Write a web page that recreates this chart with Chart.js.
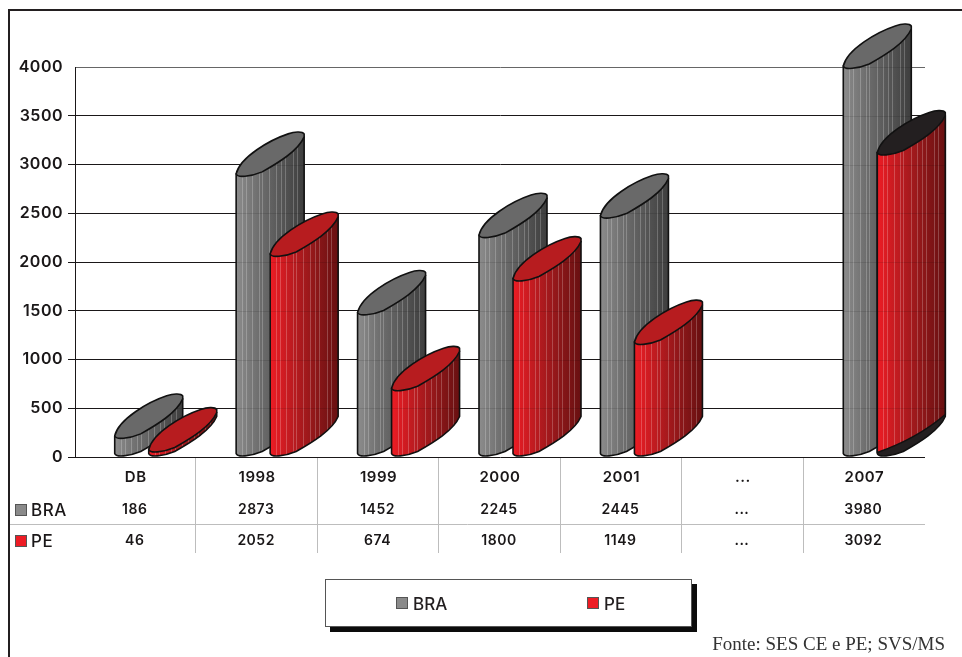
<!DOCTYPE html>
<html>
<head>
<meta charset="utf-8">
<title>BRA x PE</title>
<script src="https://cdn.jsdelivr.net/npm/chart.js@4.4.3/dist/chart.umd.js"></script>
<style>
    html, body { margin: 0; padding: 0; background: #fff; }
    body { width: 962px; height: 657px; position: relative; overflow: hidden; font-family: Inter, sans-serif; color: #231f20; }
    canvas { position: absolute; left: 0; top: 0; }
    #frame { position: absolute; left: 8px; top: 9px; right: 0; bottom: 0; border-top: 2.5px solid #231f20; border-left: 2.5px solid #231f20; }
    #legend { position: absolute; left: 325px; top: 579px; width: 365px; height: 46px; background: #fff; border: 1px solid #555; box-shadow: 5px 5px 0 #0c0c0c; }
    #legend span { position: absolute; top: 14px; font-size: 17px; font-weight: 500; line-height: 20px; }
    #legend i { position: absolute; top: 3px; left: -17px; width: 10px; height: 10px; border: 1px solid #555; }
    #source { position: absolute; right: 17px; top: 633px; font: 19px "Liberation Serif", serif; color: #333; }
</style>
</head>
<body>
<div id="frame"></div>
<canvas id="chart" width="962" height="657"></canvas>
<div id="legend"></div>
<div id="source">Fonte: SES CE e PE; SVS/MS</div>

<script>
const categories = ['DB', '1998', '1999', '2000', '2001', '...', '2007'];
const braValues = [186, 2873, 1452, 2245, 2445, null, 3980];
const peValues = [46, 2052, 674, 1800, 1149, null, 3092];
const yTicks = [0, 500, 1000, 1500, 2000, 2500, 3000, 3500, 4000];
const seriesNames = ['BRA', 'PE'];
const seriesColors = ['#8a8a8a', '#ed1c24'];

const ink = '#1a1718';
const fontFamily = 'Inter, sans-serif';
const barShift = 13;     // the bars sit right of the category centre in the original
const darkCapIndex = 6;  // 2007 PE has black caps

// colours of the fake cylinder, left to right
const shades = {
    BRA: { stops: ['#8c8c8c', '#6e6e6e', '#565656', '#3e3e3e'], cap: '#696969' },
    PE: { stops: ['#ed1c24', '#bb1b20', '#8e1719', '#681011'], cap: '#b71c1f' }
};
const stripes = [0.09, 0.15, 0.24, 0.33, 0.38, 0.49, 0.58, 0.66, 0.72, 0.83, 0.9];

// lower edge of the section, left to right (x in 68ths of the width, y up from the lowest point)
function lowerEdge(ctx, x, y, s) {
    ctx.bezierCurveTo(x + 1 * s, y + 1, x + 14 * s, y, x + 26 * s, y - 5);
    ctx.bezierCurveTo(x + 42 * s, y - 14, x + 62 * s, y - 26, x + 68 * s, y - 40);
}

function drawCylinder(chart, bar, name, index) {
    const ctx = chart.ctx;
    const shade = shades[name];
    const w = bar.width * 2;
    const s = w / 68;
    const left = bar.x - bar.width / 2 + barShift;
    const y = bar.y;
    const base = bar.base;
    const black = name === 'PE' && index === darkCapIndex;

    ctx.save();
    ctx.lineJoin = 'round';
    ctx.strokeStyle = '#111';
    ctx.lineWidth = 1.6;

    // body
    const body = new Path2D();
    body.moveTo(left, y - 3);
    body.lineTo(left, base - 3);
    lowerEdge(body, left, base, s);
    body.lineTo(left + w, y - 40);
    body.closePath();

    if (black) {
        ctx.fillStyle = '#231f20';
        ctx.fill(body);
        ctx.stroke(body);
    }

    const front = new Path2D();
    front.moveTo(left, y - 3);
    if (black) {
        front.lineTo(left, base - 4);
        front.quadraticCurveTo(left + 40 * s, base - 18, left + w, base - 42);
    } else {
        front.lineTo(left, base - 3);
        lowerEdge(front, left, base, s);
    }
    front.lineTo(left + w, y - 40);
    front.closePath();

    const grad = ctx.createLinearGradient(left, 0, left + w, 0);
    shade.stops.forEach((c, i) => grad.addColorStop(i / (shade.stops.length - 1), c));
    ctx.fillStyle = grad;
    ctx.fill(front);

    ctx.save();
    ctx.clip(front);
    ctx.strokeStyle = 'rgba(255,255,255,0.22)';
    ctx.lineWidth = 1;
    stripes.forEach(f => {
        const sx = Math.round(left + f * w) + 0.5;
        ctx.beginPath();
        ctx.moveTo(sx, y - 50);
        ctx.lineTo(sx, base + 2);
        ctx.stroke();
    });
    // gridlines show faintly through the bars
    ctx.strokeStyle = 'rgba(0,0,0,0.1)';
    chart.scales.y.ticks.forEach(t => {
        const gy = Math.round(chart.scales.y.getPixelForValue(t.value)) + 0.5;
        ctx.beginPath();
        ctx.moveTo(left, gy);
        ctx.lineTo(left + w, gy);
        ctx.stroke();
    });
    ctx.restore();

    ctx.stroke(front);

    // top cap
    ctx.beginPath();
    ctx.moveTo(left, y - 3);
    lowerEdge(ctx, left, y, s);
    ctx.lineTo(left + w, y - 43);
    ctx.bezierCurveTo(left + 66 * s, y - 46, left + 58 * s, y - 45, left + 52 * s, y - 43);
    ctx.bezierCurveTo(left + 34 * s, y - 37, left + 4 * s, y - 20, left, y - 3);
    ctx.closePath();
    ctx.fillStyle = black ? '#231f20' : shade.cap;
    ctx.fill();
    ctx.stroke();
    ctx.restore();
}

// draws the bars as cylinders from the bar elements of the chart
const cylinderPlugin = {
    id: 'cylinders',
    beforeDraw(chart) {
        chart.ctx.letterSpacing = '0.5px'; // the original font is wider than Inter
    },
    beforeDatasetsDraw(chart) {
        chart.data.datasets.forEach((ds, di) => {
            chart.getDatasetMeta(di).data.forEach((bar, i) => {
                if (ds.data[i] !== null) drawCylinder(chart, bar, ds.label, i);
            });
        });
        return false;
    }
};

// data table under the x axis
const tablePlugin = {
    id: 'dataTable',
    afterDraw(chart) {
        const ctx = chart.ctx;
        const xs = chart.scales.x;
        const bottom = chart.chartArea.bottom;
        const rowY = [510, 541];
        const keyY = [504, 535];
        const step = xs.getPixelForValue(1) - xs.getPixelForValue(0);

        ctx.save();
        ctx.strokeStyle = '#bdbdbd';
        ctx.lineWidth = 1;
        categories.slice(0, -1).forEach((c, i) => {
            const lx = Math.round(xs.getPixelForValue(i) + step / 2) - 0.5;
            ctx.beginPath();
            ctx.moveTo(lx, bottom + 1);
            ctx.lineTo(lx, 553);
            ctx.stroke();
        });
        ctx.beginPath();
        ctx.moveTo(10, 524.5);
        ctx.lineTo(chart.chartArea.right, 524.5);
        ctx.stroke();

        ctx.textBaseline = 'middle';
        chart.data.datasets.forEach((ds, di) => {
            ctx.fillStyle = seriesColors[di];
            ctx.strokeStyle = '#555';
            ctx.fillRect(15.5, keyY[di] + 0.5, 11, 11);
            ctx.strokeRect(15.5, keyY[di] + 0.5, 11, 11);

            ctx.fillStyle = ink;
            ctx.textAlign = 'left';
            ctx.font = '500 17px ' + fontFamily;
            ctx.fillText(ds.label, 31, rowY[di] + 1);

            ctx.textAlign = 'center';
            ctx.font = '600 14px ' + fontFamily;
            ds.data.forEach((v, i) => {
                ctx.fillText(v === null ? '...' : String(v), xs.getPixelForValue(i) - 1, rowY[di]);
            });
        });
        ctx.restore();
    }
};

const chart = new Chart(document.getElementById('chart'), {
    type: 'bar',
    data: {
        labels: categories,
        datasets: [
            { label: seriesNames[0], data: braValues, backgroundColor: seriesColors[0] },
            { label: seriesNames[1], data: peValues, backgroundColor: seriesColors[1] }
        ]
    },
    plugins: [cylinderPlugin, tablePlugin],
    options: {
        responsive: false,
        animation: false,
        events: [],
        layout: { padding: { top: 67, right: 37, left: 0, bottom: 0 } },
        datasets: { bar: { categoryPercentage: 0.56, barPercentage: 1 } },
        plugins: { legend: { display: false }, tooltip: { enabled: false } },
        scales: {
            x: {
                afterFit(scale) { scale.height = 200; },
                border: { display: false },
                grid: { display: false },
                ticks: {
                    color: ink,
                    padding: 3,
                    maxRotation: 0,
                    font: { family: fontFamily, size: 15, weight: '600' }
                }
            },
            y: {
                min: 0,
                max: 4000,
                afterFit(scale) { scale.width = 75; },
                afterBuildTicks(scale) { scale.ticks = yTicks.map(v => ({ value: v })); },
                border: { display: true, color: ink, width: 1 },
                grid: {
                    color: ctx => ctx.tick && ctx.tick.value === 4000 ? '#666' : ink,
                    tickColor: ctx => ctx.tick && ctx.tick.value === 4000 ? 'transparent' : ink,
                    tickLength: 7,
                    lineWidth: 1
                },
                ticks: {
                    color: ink,
                    padding: 5,
                    callback: v => String(v),
                    font: { family: fontFamily, size: 16, weight: '600' }
                }
            }
        }
    }
});

// legend box, built from the chart's datasets
const legendBox = document.getElementById('legend');
const legendLeft = [87, 278];
chart.data.datasets.forEach((ds, i) => {
    const item = document.createElement('span');
    item.style.left = legendLeft[i] + 'px';
    item.textContent = ds.label;
    const key = document.createElement('i');
    key.style.background = ds.backgroundColor;
    item.appendChild(key);
    legendBox.appendChild(item);
});
</script>
</body>
</html>
